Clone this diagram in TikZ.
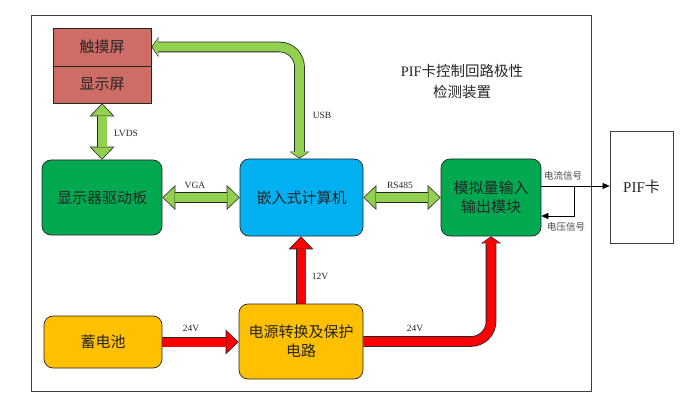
\documentclass[tikz,border=0pt]{standalone}
\usepackage{fontspec}
\setmainfont{Liberation Serif}
\newfontfamily\cjk{Noto Sans CJK SC}
\usetikzlibrary{arrows.meta,backgrounds}
\definecolor{lcdred}{RGB}{206,108,102}
\definecolor{boardgreen}{RGB}{0,168,80}
\definecolor{cpublue}{RGB}{0,176,240}
\definecolor{pwryellow}{RGB}{255,192,0}
\definecolor{linkgreen}{RGB}{146,208,80}
\definecolor{linkred}{RGB}{255,0,0}
\definecolor{dimtext}{RGB}{70,70,70}

% thick block arrows: dark outline pass, then coloured pass
\newcommand{\fatone}[3]{%
  \draw[fatout, tipout#2, ->] #3;
  \draw[fatin, tipin#2, ->, color=#1] #3;}
\newcommand{\fatboth}[3]{%
  \draw[fatout, tipout#2, <->] #3;
  \draw[fatin, tipin#2, <->, shorten <=1pt, color=#1] #3;}

\begin{document}
\begin{tikzpicture}[x=1pt, y=-1pt,
    box/.style={draw=black!85, line width=0.7pt, rounded corners=9pt, inner sep=0pt,
      text=black!85, align=center, font=\cjk\fontsize{15}{19}\selectfont},
    screen/.style={box, rounded corners=0pt, fill=lcdred, minimum width=98pt},
    lbl/.style={font=\fontsize{9.5}{11}\selectfont, text=black!85, inner sep=0pt},
    siglbl/.style={font=\cjk\fontsize{9.5}{11}\selectfont, text=dimtext, inner sep=0pt},
    sig/.style={draw=black, line width=0.6pt, -{Triangle[width=6pt,length=7pt]}},
    fatout/.style={line width=10.6pt, black!85, rounded corners=20pt},
    fatin/.style={line width=9pt, rounded corners=20pt, shorten >=1pt},
    tipoutbig/.style={>={Triangle[width=25pt,length=13pt,line width=0pt]}},
    tipinbig/.style={>={Triangle[width=21.4pt,length=11.3pt,line width=0pt]}},
    tipoutsmall/.style={>={Triangle[width=20pt,length=7pt,line width=0pt]}},
    tipinsmall/.style={>={Triangle[width=17pt,length=5.5pt,line width=0pt]}}]
  \useasboundingbox (0,0) rectangle (695,403);

  \node[draw=black!75, line width=0.8pt, minimum width=560pt, minimum height=376pt] (frame) at (311,203) {};
  \node[align=center, font=\fontsize{14.5}{21}\selectfont, text=black!85] (title) at (462,82)
    {PIF{\cjk 卡控制回路极性}\\{\cjk 检测装置}};

  % blocks
  \node[screen, minimum height=38pt] (touch) at (102,47) {触摸屏};
  \node[screen, minimum height=37pt] (lcd) at (102,84.5) {显示屏};
  \node[box, fill=boardgreen, minimum width=120pt, minimum height=75pt] (drv) at (102,197.5) {显示器驱动板};
  \node[box, fill=cpublue, minimum width=123pt, minimum height=77pt] (cpu) at (301.5,197.5) {嵌入式计算机};
  \node[box, fill=boardgreen, minimum width=100pt, minimum height=77pt] (adc) at (491,197.5) {模拟量输入\\输出模块};
  \node[box, fill=pwryellow, minimum width=118pt, minimum height=52pt] (bat) at (103,342) {蓄电池};
  \node[box, fill=pwryellow, minimum width=124pt, minimum height=75pt] (pwr) at (301,341.5) {电源转换及保护\\电路};
  \node[draw=black!75, line width=0.8pt, minimum width=63pt, minimum height=112pt,
    font=\fontsize{15}{18}\selectfont, text=black!85] (pif) at (641.5,187) {PIF{\cjk 卡}};

  % thick links
  \begin{scope}[on background layer]
    \fatboth{linkgreen}{big}{(lcd.south) -- (drv.north)}
    \fatboth{linkgreen}{big}{(drv.east) -- (cpu.west)}
    \fatboth{linkgreen}{big}{(cpu.east) -- (adc.west)}
    \fatboth{linkgreen}{small}{(touch.east) -| ([xshift=-2pt]cpu.north)}
    \fatone{linkred}{big}{(pwr.north) -- (pwr.north |- cpu.south)}
    \fatone{linkred}{big}{(bat.east) -- (bat.east -| pwr.west)}
    \fatone{linkred}{small}{(pwr.east) -| (adc.south)}
  \end{scope}

  \node[lbl] (lvdstext) at (126,133) {LVDS};
  \node[lbl] (usbtext) at (322,115) {USB};
  \node[lbl] (vgatext) at (195,185) {VGA};
  \node[lbl] (rstext) at (400,185) {RS485};
  \node[lbl] (v12text) at (320,276) {12V};
  \node[lbl] (v24text) at (191,328) {24V};
  \node[lbl] (v24btext) at (415,328) {24V};

  % signal lines
  \coordinate (iout) at ([yshift=11.5pt]adc.east);
  \coordinate (vin) at ([yshift=-18.5pt]adc.east);
  \coordinate (tap) at ([xshift=33pt]iout);
  \draw[sig] (iout) -- (iout -| pif.west);
  \draw[sig] (tap) |- (vin);
  \node[siglbl] (itext) at (563,176) {电流信号};
  \node[siglbl] (vtext) at (566,227) {电压信号};
\end{tikzpicture}
\end{document}
